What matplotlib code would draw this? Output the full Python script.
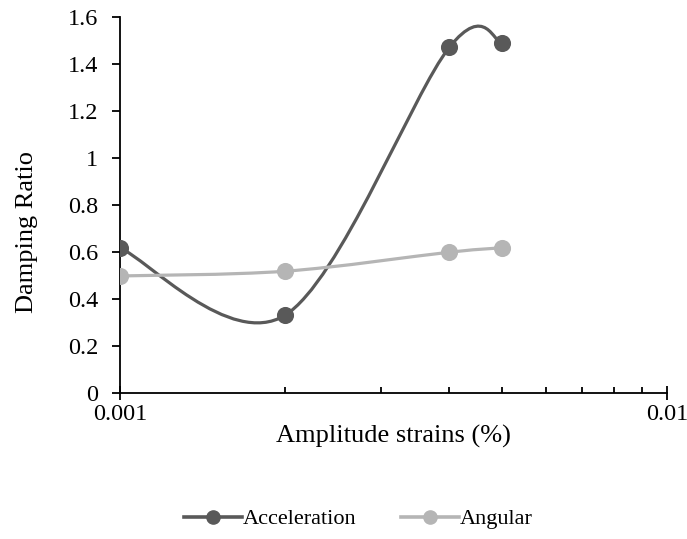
import numpy as np
import matplotlib.pyplot as plt
from matplotlib.path import Path
from matplotlib.patches import PathPatch
from matplotlib.ticker import FixedLocator, NullFormatter, FixedFormatter

plt.rcParams['font.family'] = ['Liberation Serif', 'DejaVu Serif']

strain = [0.001, 0.002, 0.004, 0.005]
accel = [0.617, 0.330, 1.471, 1.489]
angular = [0.498, 0.518, 0.599, 0.618]

dark = '#595959'
light = '#b5b5b5'

fig = plt.figure(figsize=(6.87, 5.39), dpi=100)
ax = fig.add_axes([0.1747, 0.2709, 0.9709 - 0.1747, 0.9685 - 0.2709])
ax.set_xscale('log')
ax.set_xlim(0.001, 0.01)
ax.set_ylim(0, 1.6)


def smooth_path(xs, ys):
    # excel-like smoothed line: catmull-rom bezier built in display space
    pts = ax.transData.transform(np.column_stack([xs, ys]))
    n = len(pts)
    verts = [pts[0]]
    codes = [Path.MOVETO]
    for i in range(n - 1):
        p0 = pts[max(i - 1, 0)]
        p1 = pts[i]
        p2 = pts[i + 1]
        p3 = pts[min(i + 2, n - 1)]
        c1 = p1 + (p2 - p0) / 6.0
        c2 = p2 - (p3 - p1) / 6.0
        verts += [c1, c2, p2]
        codes += [Path.CURVE4] * 3
    verts = ax.transData.inverted().transform(np.array(verts))
    return Path(verts, codes)


for ys, col, lab in [(accel, dark, 'Acceleration'), (angular, light, 'Angular')]:
    ax.add_patch(PathPatch(smooth_path(strain, ys), facecolor='none',
                           edgecolor=col, lw=2.3, zorder=2))
    ax.plot(strain, ys, 'o', color=col, ms=11.3, zorder=3)
    ax.plot([], [], '-o', color=col, lw=2.6, ms=9.5, label=lab)

for s in ['top', 'right']:
    ax.spines[s].set_visible(False)
for s in ['left', 'bottom']:
    ax.spines[s].set_linewidth(1.3)

ax.set_yticks(np.arange(0, 1.61, 0.2))
ax.set_yticklabels(['0', '0.2', '0.4', '0.6', '0.8', '1', '1.2', '1.4', '1.6'])
ax.xaxis.set_major_locator(FixedLocator([0.001, 0.01]))
ax.xaxis.set_major_formatter(FixedFormatter(['0.001', '0.01']))
ax.xaxis.set_minor_locator(FixedLocator([k * 0.001 for k in range(2, 10)]))
ax.xaxis.set_minor_formatter(NullFormatter())

ax.tick_params(axis='y', direction='out', length=5.8, width=1.3, labelsize=17.5, pad=10)
ax.tick_params(axis='x', which='major', direction='inout', length=10, width=1.3,
               labelsize=17.5, pad=3)
ax.tick_params(axis='x', which='minor', direction='in', length=4.5, width=1.3)

ax.set_xlabel('Amplitude strains (%)', fontsize=19)
ax.xaxis.set_label_coords(0.5, -0.085)
ax.set_ylabel('Damping Ratio', fontsize=19)
ax.yaxis.set_label_coords(-0.15, 0.428)

fig.legend(loc='center', bbox_to_anchor=(0.522, 0.037), ncol=2, frameon=False,
           fontsize=16, handlelength=2.6, handletextpad=0.05, columnspacing=2.0)

fig.savefig('out.png', dpi=100)
